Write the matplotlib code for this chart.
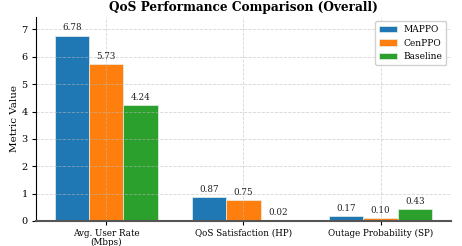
import matplotlib
matplotlib.use("Agg")
import matplotlib.pyplot as plt
import numpy as np

categories = ["Avg. User Rate\n(Mbps)", "QoS Satisfaction (HP)", "Outage Probability (SP)"]
series_names = ["MAPPO", "CenPPO", "Baseline"]
mappo = [6.78, 0.87, 0.17]
cenppo = [5.73, 0.75, 0.10]
baseline = [4.24, 0.02, 0.43]
colors = ["#1f77b4", "#ff7f0e", "#2ca02c"]

plt.rcParams['font.family'] = ['DejaVu Serif']

fig = plt.figure(figsize=(4.62, 2.46), dpi=100)
ax = fig.add_axes([0.078, 0.102, 0.898, 0.829])

x = np.arange(len(categories))
w = 0.25
for i, (vals, name) in enumerate(zip([mappo, cenppo, baseline], series_names)):
    bars = ax.bar(x + (i - 1) * w, vals, w, label=name, color=colors[i],
                  edgecolor="#e8f0e8", linewidth=0.5, zorder=1)
    for b, v in zip(bars, vals):
        ax.text(b.get_x() + b.get_width() / 2, v + 0.12, f"{v:.2f}",
                ha="center", va="bottom", fontsize=6.3, color="#222222", zorder=4)

ax.set_ylim(0, max(mappo) * 1.1)
ax.set_xticks(x)
ax.set_xticklabels(categories, fontsize=6.3, linespacing=1.0)
ax.tick_params(axis='x', pad=2.5, length=3)
ax.tick_params(axis='y', labelsize=7, length=3, pad=3)
ax.set_ylabel("Metric Value", fontsize=7.5)
ax.yaxis.set_label_coords(-0.042, 0.5)
ax.set_title("QoS Performance Comparison (Overall)", fontsize=8.7, fontweight="bold", pad=4)
ax.grid(True, linestyle="--", color="#bbbbbb", linewidth=0.6, alpha=0.6, zorder=1.5)
ax.set_axisbelow('line')
ax.spines['top'].set_visible(False)
ax.spines['right'].set_visible(False)
ax.spines['bottom'].set_color("#555555")
ax.spines['bottom'].set_linewidth(1.5)
ax.legend(loc="upper right", fontsize=6.5, framealpha=0.9)

fig.savefig("out.png", dpi=100)
